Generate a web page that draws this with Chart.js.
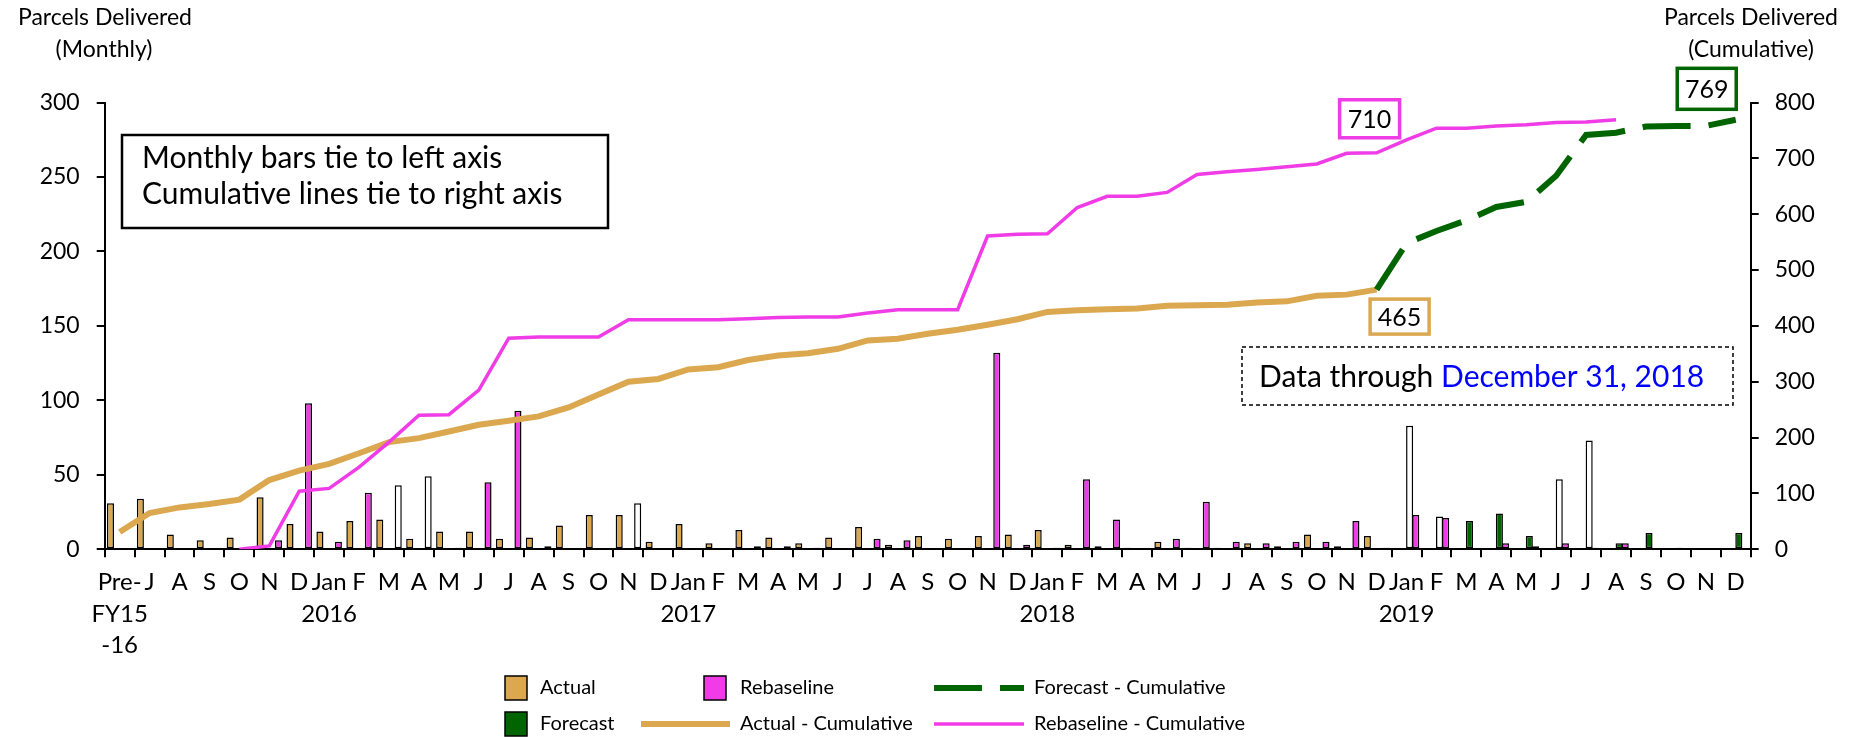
<!DOCTYPE html>
<html>
<head>
<meta charset="utf-8">
<script src="https://cdn.jsdelivr.net/npm/chart.js@4.4.1/dist/chart.umd.min.js"></script>
<style>
  html, body { margin: 0; padding: 0; background: #fff; }
  canvas { display: block; }
</style>
</head>
<body>
<canvas id="chart" width="1860" height="737"></canvas>
<script>
// categories (one per month, Pre-FY15-16 first)
const categories = [
  ['Pre-', 'FY15', '-16'], 'J', 'A', 'S', 'O', 'N', 'D',
  ['Jan', '2016'], 'F', 'M', 'A', 'M', 'J', 'J', 'A', 'S', 'O', 'N', 'D',
  ['Jan', '2017'], 'F', 'M', 'A', 'M', 'J', 'J', 'A', 'S', 'O', 'N', 'D',
  ['Jan', '2018'], 'F', 'M', 'A', 'M', 'J', 'J', 'A', 'S', 'O', 'N', 'D',
  ['Jan', '2019'], 'F', 'M', 'A', 'M', 'J', 'J', 'A', 'S', 'O', 'N', 'D'
];

// monthly bars (left axis)
const actual = [
  31, 34, 10, 6, 8, 35, 17,
  12, 19, 20, 7, 12, 12, 7, 8, 16, 23, 23, 5,
  17, 4, 13, 8, 4, 8, 15, 3, 9, 7, 9, 10,
  13, 3, 2, 1, 5, 1, 1, 4, 2, 10, 2, 9,
  null, null, null, null, null, null, null, null, null, null, null, null
];
const rebaseline = [
  null, null, null, null, null, 6, 98,
  5, 38, null, null, 1, 45, 93, 2, null, null, null, null,
  null, null, 2, 2, 1, null, 7, 6, null, null, 132, 3,
  1, 47, 20, null, 7, 32, 5, 4, 5, 5, 19, 1,
  23, 21, null, 4, 2, 4, 1, 4, null, null, null, null
];
// hollow (white) rebaseline bars
const rebaselineOpen = [
  null, null, null, null, null, null, null,
  null, null, 43, 49, null, null, null, null, null, null, 31, null,
  null, null, null, null, null, null, null, null, null, null, null, null,
  null, null, null, null, null, null, null, null, null, null, null, null,
  null, null, null, null, null, null, null, null, null, null, null, null
];
const forecast = [
  null, null, null, null, null, null, null,
  null, null, null, null, null, null, null, null, null, null, null, null,
  null, null, null, null, null, null, null, null, null, null, null, null,
  null, null, null, null, null, null, null, null, null, null, null, null,
  null, null, 19, 24, 9, null, null, 4, 11, 1, null, 11
];
// hollow (white) forecast bars
const forecastOpen = [
  null, null, null, null, null, null, null,
  null, null, null, null, null, null, null, null, null, null, null, null,
  null, null, null, null, null, null, null, null, null, null, null, null,
  null, null, null, null, null, null, null, null, null, null, null, null,
  83, 22, null, null, null, 47, 73, null, null, null, null, null
];

// cumulative lines (right axis)
const actualCum = [
  31, 65, 75, 81, 89, 124, 141,
  153, 172, 192, 199, 211, 223, 230, 238, 254, 277, 300, 305,
  322, 326, 339, 347, 351, 359, 374, 377, 386, 393, 402, 412,
  425, 428, 430, 431, 436, 437, 438, 442, 444, 454, 456, 465,
  null, null, null, null, null, null, null, null, null, null, null, null
];
const rebaselineCum = [
  null, null, null, null, 0, 6, 104,
  109, 147, 192, 240, 241, 285, 378, 380, 380, 380, 411, 411,
  411, 411, 413, 415, 416, 416, 423, 429, 429, 429, 561, 564,
  565, 612, 632, 632, 639, 671, 676, 680, 685, 690, 709, 710,
  733, 754, 754, 758, 760, 764, 765, 769, null, null, null, null
];
const forecastCum = [
  null, null, null, null, null, null, null,
  null, null, null, null, null, null, null, null, null, null, null, null,
  null, null, null, null, null, null, null, null, null, null, null, null,
  null, null, null, null, null, null, null, null, null, null, null, 465,
  548, 570, 589, 613, 622, 669, 742, 746, 757, 758, 758, 769
];

const leftTicks = [0, 50, 100, 150, 200, 250, 300];
const rightTicks = [0, 100, 200, 300, 400, 500, 600, 700, 800];

const TAN = '#DBA84F';
const MAGENTA = '#F03CE6';
const GREEN = '#006400';
const FONT = 'Lato';

Chart.defaults.font.family = FONT;
Chart.defaults.color = '#000';

function valueBox(ctx, text, cx, cy, w, h, color) {
  ctx.lineWidth = 3.5;
  ctx.strokeStyle = color;
  ctx.fillStyle = '#fff';
  ctx.fillRect(cx - w / 2, cy - h / 2, w, h);
  ctx.strokeRect(cx - w / 2, cy - h / 2, w, h);
  ctx.fillStyle = '#000';
  ctx.font = '25px ' + FONT;
  ctx.textAlign = 'center';
  ctx.textBaseline = 'middle';
  ctx.fillText(text, cx, cy + 1);
}

const overlay = {
  id: 'overlay',
  afterDraw(chart) {
    const ctx = chart.ctx;
    const xs = chart.scales.x, y2 = chart.scales.y2;
    ctx.save();

    // axis titles
    ctx.fillStyle = '#000';
    ctx.font = '23px ' + FONT;
    ctx.textAlign = 'center';
    ctx.textBaseline = 'middle';
    ctx.fillText('Parcels Delivered', 105, 18);
    ctx.fillText('(Monthly)', 104, 50);
    ctx.fillText('Parcels Delivered', 1751, 18);
    ctx.fillText('(Cumulative)', 1751, 50);

    // note box
    ctx.lineWidth = 2.5;
    ctx.strokeStyle = '#000';
    ctx.fillStyle = '#fff';
    ctx.fillRect(122, 135, 486, 93);
    ctx.strokeRect(122, 135, 486, 93);
    ctx.fillStyle = '#000';
    ctx.font = '30px ' + FONT;
    ctx.textAlign = 'left';
    ctx.fillText('Monthly bars tie to left axis', 142, 158);
    ctx.fillText('Cumulative lines tie to right axis', 142, 194);

    // data-through box
    ctx.lineWidth = 1.5;
    ctx.setLineDash([4, 3]);
    ctx.strokeRect(1242, 347, 491, 58);
    ctx.setLineDash([]);
    ctx.font = '30px ' + FONT;
    const lead = 'Data through ';
    ctx.fillText(lead, 1259, 377);
    ctx.fillStyle = '#0000FF';
    ctx.fillText('December 31, 2018', 1259 + ctx.measureText(lead).width, 377);

    // value call-outs
    valueBox(ctx, '465', xs.getPixelForValue(42) + 23, y2.getPixelForValue(465) + 27, 59, 35, TAN);
    valueBox(ctx, '710', xs.getPixelForValue(42) - 7, y2.getPixelForValue(710) - 34, 60, 38, MAGENTA);
    valueBox(ctx, '769', xs.getPixelForValue(54) - 29, y2.getPixelForValue(769) - 31, 59, 41, GREEN);

    // legend
    const r1 = 688, r2 = 724;
    ctx.font = '20px ' + FONT;
    ctx.textAlign = 'left';
    ctx.textBaseline = 'middle';
    const swatch = (x, y, fill) => {
      ctx.fillStyle = fill;
      ctx.fillRect(x, y - 12, 22, 24);
      ctx.lineWidth = 1.5;
      ctx.strokeStyle = '#000';
      ctx.strokeRect(x, y - 12, 22, 24);
    };
    const seg = (x1, x2, y, color, w, dash) => {
      ctx.beginPath();
      ctx.setLineDash(dash || []);
      ctx.strokeStyle = color;
      ctx.lineWidth = w;
      ctx.moveTo(x1, y);
      ctx.lineTo(x2, y);
      ctx.stroke();
      ctx.setLineDash([]);
    };
    swatch(505, r1, TAN);
    swatch(505, r2, GREEN);
    swatch(704, r1, MAGENTA);
    seg(641, 730, r2, TAN, 6);
    seg(934, 1024, r1, GREEN, 6, [48, 18]);
    seg(934, 1024, r2, MAGENTA, 3.5);
    ctx.fillStyle = '#000';
    ctx.fillText('Actual', 540, r1);
    ctx.fillText('Forecast', 540, r2);
    ctx.fillText('Rebaseline', 740, r1);
    ctx.fillText('Actual - Cumulative', 740, r2);
    ctx.fillText('Forecast - Cumulative', 1034, r1);
    ctx.fillText('Rebaseline - Cumulative', 1034, r2);

    ctx.restore();
  }
};

const barCommon = {
  type: 'bar',
  yAxisID: 'y',
  borderColor: '#000',
  borderWidth: 1.5,
  borderSkipped: false,
  categoryPercentage: 0.822,
  barPercentage: 1.15,
  order: 5
};

const lineCommon = {
  type: 'line',
  yAxisID: 'y2',
  pointRadius: 0,
  tension: 0,
  fill: false,
  spanGaps: false
};

const axisFont = { family: FONT, size: 23 };

new Chart(document.getElementById('chart'), {
  data: {
    labels: categories,
    datasets: [
      Object.assign({}, barCommon, { label: 'Actual', data: actual, backgroundColor: TAN, stack: 's0' }),
      Object.assign({}, barCommon, { label: '', data: [], backgroundColor: '#fff', stack: 's1' }),
      Object.assign({}, barCommon, { label: 'Forecast', data: forecast, backgroundColor: GREEN, stack: 's2' }),
      Object.assign({}, barCommon, { label: '', data: forecastOpen, backgroundColor: '#fff', stack: 's2' }),
      Object.assign({}, barCommon, { label: 'Rebaseline', data: rebaseline, backgroundColor: MAGENTA, stack: 's3' }),
      Object.assign({}, barCommon, { label: '', data: rebaselineOpen, backgroundColor: '#fff', stack: 's3' }),
      Object.assign({}, lineCommon, { label: 'Actual - Cumulative', data: actualCum, borderColor: TAN, borderWidth: 6, order: 3 }),
      Object.assign({}, lineCommon, { label: 'Rebaseline - Cumulative', data: rebaselineCum, borderColor: MAGENTA, borderWidth: 3.5, order: 2 }),
      Object.assign({}, lineCommon, { label: 'Forecast - Cumulative', data: forecastCum, borderColor: GREEN, borderWidth: 6, borderDash: [48, 18], order: 1 })
    ]
  },
  options: {
    responsive: false,
    devicePixelRatio: 1,
    animation: false,
    layout: { padding: { top: 102.5, left: 0, right: 0, bottom: 0 } },
    plugins: {
      legend: { display: false },
      tooltip: { enabled: false }
    },
    scales: {
      x: {
        grid: { drawOnChartArea: false, drawTicks: true, tickLength: 8, color: '#000', lineWidth: 2, offset: true },
        border: { display: true, color: '#000', width: 2 },
        ticks: { autoSkip: false, maxRotation: 0, minRotation: 0, padding: 9, color: '#000', font: { family: FONT, size: 24, lineHeight: 1.32 } },
        afterFit(scale) { scale.height = 737 - 549.3; }
      },
      y: {
        position: 'left',
        min: 0,
        max: 300,
        afterBuildTicks(scale) { scale.ticks = leftTicks.map(v => ({ value: v })); },
        grid: { drawOnChartArea: false, tickLength: 8, color: '#000', lineWidth: 2 },
        border: { display: true, color: '#000', width: 2 },
        ticks: { padding: 17, color: '#000', font: axisFont },
        afterFit(scale) { scale.width = 104.7; }
      },
      y2: {
        position: 'right',
        min: 0,
        max: 800,
        afterBuildTicks(scale) { scale.ticks = rightTicks.map(v => ({ value: v })); },
        grid: { drawOnChartArea: false, tickLength: 8, color: '#000', lineWidth: 2 },
        border: { display: true, color: '#000', width: 2 },
        ticks: { padding: 16, color: '#000', font: axisFont },
        afterFit(scale) { scale.width = 1860 - 1750.7; }
      }
    }
  },
  plugins: [overlay]
});
</script>
</body>
</html>
